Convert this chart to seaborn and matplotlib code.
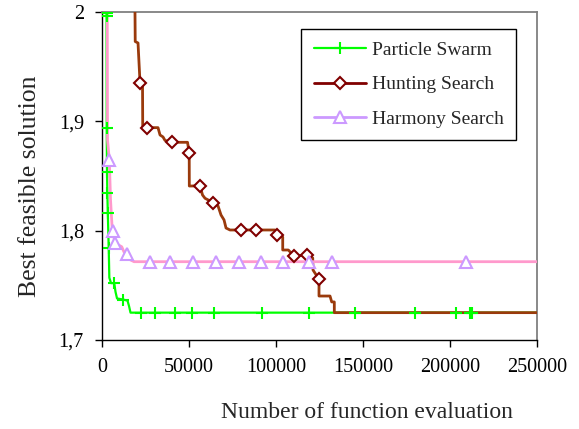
import matplotlib
matplotlib.use("Agg")
import matplotlib.pyplot as plt
from matplotlib.lines import Line2D
import pandas as pd
import seaborn as sns

# ---- convergence histories (function evaluations vs. best feasible value) ----
series_names = ["Particle Swarm", "Hunting Search", "Harmony Search"]

# Particle Swarm: trace and marked samples
ps_x = [2590, 2700, 2870, 3050, 3330, 3850, 4200, 5170, 7010, 7760, 8620,
        12070, 14650, 15520, 16380, 250000]
ps_y = [2.02, 1.894, 1.854, 1.834, 1.816, 1.784, 1.757, 1.752, 1.752, 1.744,
        1.738, 1.737, 1.736, 1.731, 1.725, 1.725]
ps_mx = [2600, 2750, 2700, 2870, 3050, 3330, 3850, 7010, 12070, 22200, 30300,
         41800, 51700, 64400, 91900, 119100, 145300, 179800, 203200, 211700,
         212800]
ps_my = [1.999, 1.996, 1.894, 1.854, 1.834, 1.816, 1.784, 1.752, 1.737, 1.725,
         1.725, 1.725, 1.725, 1.725, 1.725, 1.725, 1.725, 1.725, 1.725, 1.725,
         1.725]

# Hunting Search: trace and marked samples
hs_x = [18850, 19080, 20690, 21840, 23280, 23390, 26030, 32180, 33330, 35050,
        36200, 40400, 49140, 50110, 50170, 56320, 57760, 59200, 63960, 66670,
        68390, 70120, 71270, 73560, 79880, 88500, 99420, 100570, 103850,
        103850, 107070, 110340, 117990, 121090, 121260, 124700, 124700,
        131030, 132010, 133500, 133500, 250000]
hs_y = [2.02, 1.973, 1.9716, 1.9353, 1.9332, 1.8957, 1.8942, 1.8942, 1.8875,
        1.8857, 1.8825, 1.8808, 1.8808, 1.871, 1.8408, 1.841, 1.8326, 1.8296,
        1.8256, 1.8226, 1.8143, 1.8098, 1.8024, 1.8006, 1.8006, 1.8006,
        1.8006, 1.7956, 1.7942, 1.7823, 1.7823, 1.7768, 1.7777, 1.775, 1.764,
        1.7555, 1.7402, 1.7402, 1.7348, 1.7348, 1.725, 1.725]
hs_mx = [21840, 26030, 40400, 50110, 56320, 63960, 79880, 88500, 100570,
         110340, 117990, 124700]
hs_my = [1.9353, 1.8942, 1.8808, 1.871, 1.841, 1.8256, 1.8006, 1.8006, 1.7956,
         1.7768, 1.7777, 1.7555]

# Harmony Search: trace and marked samples
hm_x = [2990, 3160, 4200, 4890, 5750, 6320, 7360, 11320, 12640, 14370, 16380,
        18390, 250000]
hm_y = [2.02, 1.883, 1.8646, 1.828, 1.8043, 1.7997, 1.7887, 1.7853, 1.7805,
        1.7782, 1.7732, 1.7716, 1.7716]
hm_mx = [4200, 6320, 7360, 14370, 27590, 39080, 52120, 65340, 78900, 91200,
         103730, 119140, 132010, 209020]
hm_my = [1.8646, 1.7997, 1.7887, 1.7782, 1.7716, 1.7716, 1.7716, 1.7716,
         1.7716, 1.7716, 1.7716, 1.7716, 1.7716, 1.7716]

x_ticks = [0, 50000, 100000, 150000, 200000, 250000]
x_tick_labels = ["0", "50000", "100000", "150000", "200000", "250000"]
y_ticks = [1.7, 1.8, 1.9, 2.0]
y_tick_labels = ["1,7", "1,8", "1,9", "2"]

# ---- styling ----
sns.set_style("white")
plt.rcParams["font.family"] = ["Liberation Serif", "DejaVu Serif"]

fig = plt.figure(figsize=(5.79, 4.29), dpi=100)
fig.patch.set_facecolor("white")
ax = fig.add_axes([0.1762, 0.2075, 0.7513, 0.7646])


def draw_trace(x, y, color, lw, z):
    df = pd.DataFrame({"evals": x, "best": y})
    sns.lineplot(data=df, x="evals", y="best", sort=False, estimator=None,
                 color=color, lw=lw, ax=ax, zorder=z, legend=False)


def draw_marks(x, y, marker, ms, edge, face, z):
    df = pd.DataFrame({"evals": x, "best": y})
    sns.lineplot(data=df, x="evals", y="best", sort=False, estimator=None,
                 linestyle="none", marker=marker, ms=ms, mec=edge, mfc=face,
                 mew=1.5, color=edge, ax=ax, zorder=z, legend=False)


green = "#00FF00"
brown_line = "#9A3A0C"
brown_mark = "#800000"
pink_line = "#FF99CC"
lavender = "#CC99FF"

draw_trace(ps_x, ps_y, green, 1.6, 2)
draw_trace(hs_x, hs_y, brown_line, 2.0, 3)
draw_trace(hm_x, hm_y, pink_line, 2.0, 4)

draw_marks(ps_mx, ps_my, "+", 8, green, green, 6)
draw_marks(hs_mx, hs_my, "D", 6, brown_mark, "white", 5)
draw_marks(hm_mx, hm_my, "^", 8, lavender, "white", 7)

ax.set_xlim(0, 250000)
ax.set_ylim(1.7, 2.0)
ax.set_xticks(x_ticks)
ax.set_xticklabels(x_tick_labels)
ax.set_yticks(y_ticks)
ax.set_yticklabels(y_tick_labels)
ax.tick_params(axis="both", direction="out", length=5, width=1,
               colors="black", labelsize=14.5, pad=8,
               bottom=True, left=True, top=False, right=False)

for side in ("left", "bottom"):
    ax.spines[side].set_color("black")
    ax.spines[side].set_linewidth(1.0)
for side in ("top", "right"):
    ax.spines[side].set_color("#808080")
    ax.spines[side].set_linewidth(1.3)

ax.set_xlabel("Number of function evaluation", fontsize=17, va="center")
ax.xaxis.set_label_coords(0.609, -0.2226)
ax.set_ylabel("Best feasible solution", fontsize=18.5, va="center")
ax.yaxis.set_label_coords(-0.1655, 0.468)

handles = [
    Line2D([], [], color=green, lw=1.6, marker="+", ms=8, mew=1.5),
    Line2D([], [], color=brown_mark, lw=2.0, marker="D", ms=6,
           mec=brown_mark, mfc="white", mew=1.5),
    Line2D([], [], color=lavender, lw=2.0, marker="^", ms=8,
           mec=lavender, mfc="white", mew=1.5),
]
leg = ax.legend(handles, series_names, loc="upper left",
                bbox_to_anchor=(301 / 579, 1 - 29 / 429),
                bbox_transform=fig.transFigure, borderaxespad=0,
                frameon=True, fancybox=False, shadow=False, framealpha=1,
                edgecolor="black", fontsize=14, numpoints=1,
                handlelength=2.7, handletextpad=0.3, labelspacing=0.85,
                borderpad=0.65)
leg.get_frame().set_linewidth(1.0)

fig.savefig("out.png", dpi=100, facecolor="white")
